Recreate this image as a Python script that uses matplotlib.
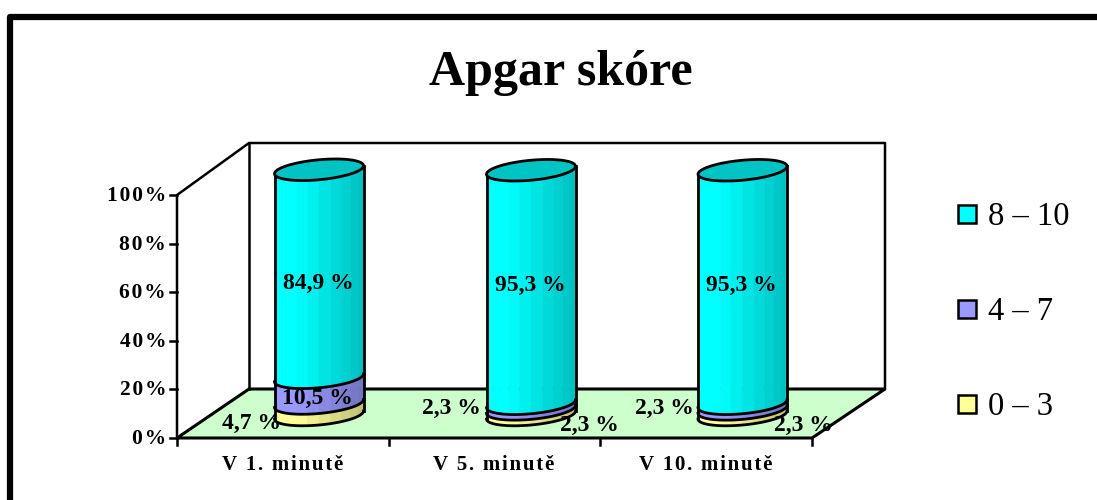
import numpy as np
import matplotlib
matplotlib.use("Agg")
import matplotlib.pyplot as plt
from matplotlib.patches import Polygon, Rectangle

title = "Apgar skóre"
categories = ["V 1. minutě", "V 5. minutě", "V 10. minutě"]
series_names = ["0 – 3", "4 – 7", "8 – 10"]
val_low = [4.7, 2.3, 2.3]
val_mid = [10.5, 2.3, 2.3]
val_high = [84.9, 95.3, 95.3]
y_ticks = [0, 20, 40, 60, 80, 100]

colors = ["#FFFF99", "#9999FF", "#00FFFF"]
top_color = "#00C4C4"
floor_color = "#CCFFCC"
serif = "Liberation Serif"

# geometrie grafu v pixelech
x_front0, x_front1 = 177, 812
y_front, y_back = 438, 389
depth_x = 72
axis_h = 243
bar_x = [319, 531, 742.5]
bar_a = 44.5
bar_b = 10
bar_skew = 4
bar_base = 415
bar_h = 245


def val_to_px(v):
    return bar_base - v / 100 * bar_h


def curve(cx, cy, t):
    return cx + bar_a * np.cos(t), cy + bar_b * np.sin(t) - bar_skew * np.cos(t)


def spaced(s, gap):
    # prolozeny text, matplotlib nema letter spacing
    return gap.join(s)


def draw_segment(ax, cx, v0, v1, color):
    y0, y1 = val_to_px(v0), val_to_px(v1)
    edges = np.pi * (1 - np.linspace(0, 1, 13))
    rgb = np.array(matplotlib.colors.to_rgb(color))
    for t0, t1 in zip(edges[:-1], edges[1:]):
        frac = (np.cos((t0 + t1) / 2) + 1) / 2
        shade = 1 if frac < 0.25 else 1 - 0.25 * (frac - 0.25) / 0.75
        ts = np.array([t0, t1])
        xa, ya = curve(cx, y1, ts)
        xb, yb = curve(cx, y0, ts[::-1])
        pts = np.column_stack([np.r_[xa, xb], np.r_[ya, yb]])
        ax.add_patch(Polygon(pts, fc=rgb * shade, ec=rgb * shade, lw=0.4, zorder=3))
    t = np.linspace(np.pi, 0, 60)
    xa, ya = curve(cx, y0, t)
    ax.plot(xa, ya, color="k", lw=2, zorder=4)
    ax.plot([cx - bar_a, cx - bar_a], [y0 + bar_skew, y1 + bar_skew], color="k", lw=2, zorder=4)
    ax.plot([cx + bar_a, cx + bar_a], [y0 - bar_skew, y1 - bar_skew], color="k", lw=2, zorder=4)


fig = plt.figure(figsize=(10.97, 5), dpi=100)
ax = fig.add_axes([0, 0, 1, 1])
ax.set_xlim(0, 1097)
ax.set_ylim(500, 0)
ax.axis("off")

# ramecek
ax.plot([10, 10, 1097], [500, 17, 17], color="k", lw=4.5, solid_joinstyle="round")

ax.text(561, 73, title, family=serif, weight="bold", fontsize=36, ha="center", va="center")

# podlaha a steny
y_top = y_front - axis_h
y_back_top = y_top - (y_front - y_back) - 3
ax.add_patch(Polygon([(x_front0, y_front), (x_front1, y_front), (x_front1 + depth_x + 1, y_back),
                      (x_front0 + depth_x, y_back)], fc=floor_color, ec="k", lw=2.2, zorder=1))
ax.plot([x_front0, x_front0, x_front0 + depth_x, x_front1 + depth_x + 1, x_front1 + depth_x + 1],
        [y_front, y_top, y_back_top, y_back_top, y_back], color="k", lw=1.8, zorder=1)
ax.plot([x_front0 + depth_x, x_front0 + depth_x], [y_back_top, y_back], color="k", lw=1.8, zorder=1)

# osy
for v in y_ticks:
    y = y_front - v / 100 * axis_h
    ax.plot([170, x_front0], [y, y], color="k", lw=1.8, zorder=1)
    ax.text(166, y + 1, spaced(f"{v}%", "\u200a"), family=serif, weight="bold", fontsize=15.5,
            ha="right", va="center")
tick_x = np.linspace(x_front0, x_front1, len(categories) + 1)
for x in tick_x:
    ax.plot([x, x], [y_front, 445], color="k", lw=1.8, zorder=1)
for i, name in enumerate(categories):
    ax.text((tick_x[i] + tick_x[i + 1]) / 2 - 0.5, 465, spaced(name, "\u200a"), family=serif,
            weight="bold", fontsize=15, ha="center", va="center")

# valce
for i, cx in enumerate(bar_x):
    v1 = val_low[i]
    v2 = v1 + val_mid[i]
    draw_segment(ax, cx, 0, v1, colors[0])
    draw_segment(ax, cx, v1, v2, colors[1])
    draw_segment(ax, cx, v2, v2 + val_high[i], colors[2])
    t = np.linspace(0, 2 * np.pi, 80)
    xt, yt = curve(cx, val_to_px(v2 + val_high[i]), t)
    ax.add_patch(Polygon(np.column_stack([xt, yt]), fc=top_color, ec="k", lw=2, zorder=5))


def pct(v):
    return f"{v:.1f}".replace(".", ",") + " %"


label_kw = dict(family=serif, weight="bold", fontsize=17, ha="center", va="center", zorder=6)
high_label_pos = [(318, 283), (530, 285), (741, 285)]
mid_label_pos = [(317, 398), (451, 408), (664, 408)]
low_label_pos = [(252, 423), (589, 425), (803, 425)]
for i in range(len(categories)):
    ax.text(*high_label_pos[i], pct(val_high[i]), **label_kw)
    ax.text(*mid_label_pos[i], pct(val_mid[i]), **label_kw)
    ax.text(*low_label_pos[i], pct(val_low[i]), **label_kw)

# legenda
legend_y = [404, 309, 214]
for name, col, y in zip(series_names, colors, legend_y):
    ax.add_patch(Rectangle((958, y - 9), 18, 18, fc=col, ec="k", lw=1.8))
    ax.text(988, y + 3, name, family=serif, fontsize=23.5, ha="left", va="center")

fig.savefig("out.png", dpi=100)
